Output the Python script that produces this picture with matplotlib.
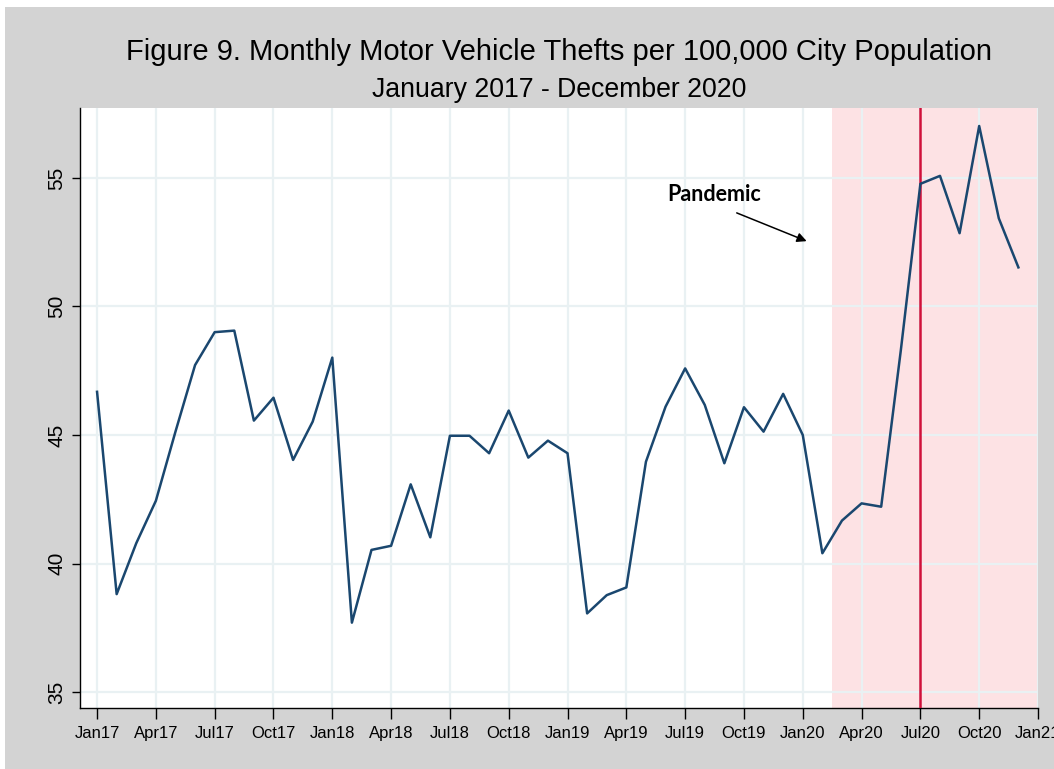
import matplotlib.pyplot as plt
from matplotlib.patches import Rectangle

# monthly values, Jan 2017 - Dec 2020
months = ["Jan17", "Apr17", "Jul17", "Oct17", "Jan18", "Apr18", "Jul18", "Oct18",
          "Jan19", "Apr19", "Jul19", "Oct19", "Jan20", "Apr20", "Jul20", "Oct20", "Jan21"]
thefts_2017 = [46.68, 38.81, 40.79, 42.44, 45.13, 47.72, 49.0, 49.06, 45.56, 46.45, 44.03, 45.52]
thefts_2018 = [48.01, 37.70, 40.53, 40.69, 43.08, 41.02, 44.97, 44.97, 44.29, 45.95, 44.12, 44.78]
thefts_2019 = [44.29, 38.06, 38.77, 39.07, 43.96, 46.10, 47.59, 46.17, 43.90, 46.08, 45.13, 46.60]
thefts_2020 = [45.00, 40.40, 41.67, 42.34, 42.21, 48.28, 54.77, 55.08, 52.85, 57.02, 53.43, 51.52]
thefts = thefts_2017 + thefts_2018 + thefts_2019 + thefts_2020
idx = list(range(len(thefts)))

shade_start = 37.5   # mid Feb 2020
pandemic_line = 42   # Jul 2020

plt.rcParams["font.family"] = ["Liberation Sans", "DejaVu Sans"]

fig = plt.figure(figsize=(10.54, 7.69), dpi=100, facecolor="white")
fig.patches.append(Rectangle((5 / 1054, 0), 1, 1 - 7 / 769, transform=fig.transFigure,
                             facecolor="#d3d3d3", edgecolor="none", zorder=-10))

ax = fig.add_axes([80 / 1054, 1 - 708 / 769, (1038 - 80) / 1054, (708 - 108) / 769])
ax.set_facecolor("white")

ax.axvspan(shade_start, 48, color="#fde2e4", zorder=0, lw=0)
ax.grid(True, color="#e9f1f3", lw=1.6, zorder=1)
ax.set_axisbelow(True)
ax.axvline(pandemic_line, color="#d0103a", lw=1.8, zorder=3)
ax.plot(idx, thefts, color="#1a476f", lw=1.8, zorder=4)

ax.set_xlim(-0.87, 48)
ax.set_ylim(34.38, 57.72)
ax.set_xticks(range(0, 49, 3))
ax.set_xticklabels(months, fontsize=12)
ax.set_yticks([35, 40, 45, 50, 55])
ax.set_yticklabels(["35", "40", "45", "50", "55"], fontsize=15, rotation=90, va="center")
ax.tick_params(axis="x", length=8, width=1, pad=5)
ax.tick_params(axis="y", length=6, width=1, pad=4)
for s in ["top", "right"]:
    ax.spines[s].set_visible(False)
for s in ["left", "bottom"]:
    ax.spines[s].set_color("black")
    ax.spines[s].set_linewidth(1)

ax.text(29.08, 54.35, "Pandemic", fontsize=15.5, fontweight="bold", family="Lato",
        va="center", ha="left")
ax.annotate("", xy=(36.33, 52.5), xytext=(32.5, 53.68),
            arrowprops=dict(arrowstyle="-|>", color="black", lw=1.1, mutation_scale=14))

cx = (80 + 1038) / 2 / 1054
fig.text(cx, 1 - 52 / 769, "Figure 9. Monthly Motor Vehicle Thefts per 100,000 City Population",
         ha="center", va="center", fontsize=21)
fig.text(cx, 1 - 90 / 769, "January 2017 - December 2020",
         ha="center", va="center", fontsize=19.2)

fig.savefig("out.png", dpi=100, facecolor="white")
